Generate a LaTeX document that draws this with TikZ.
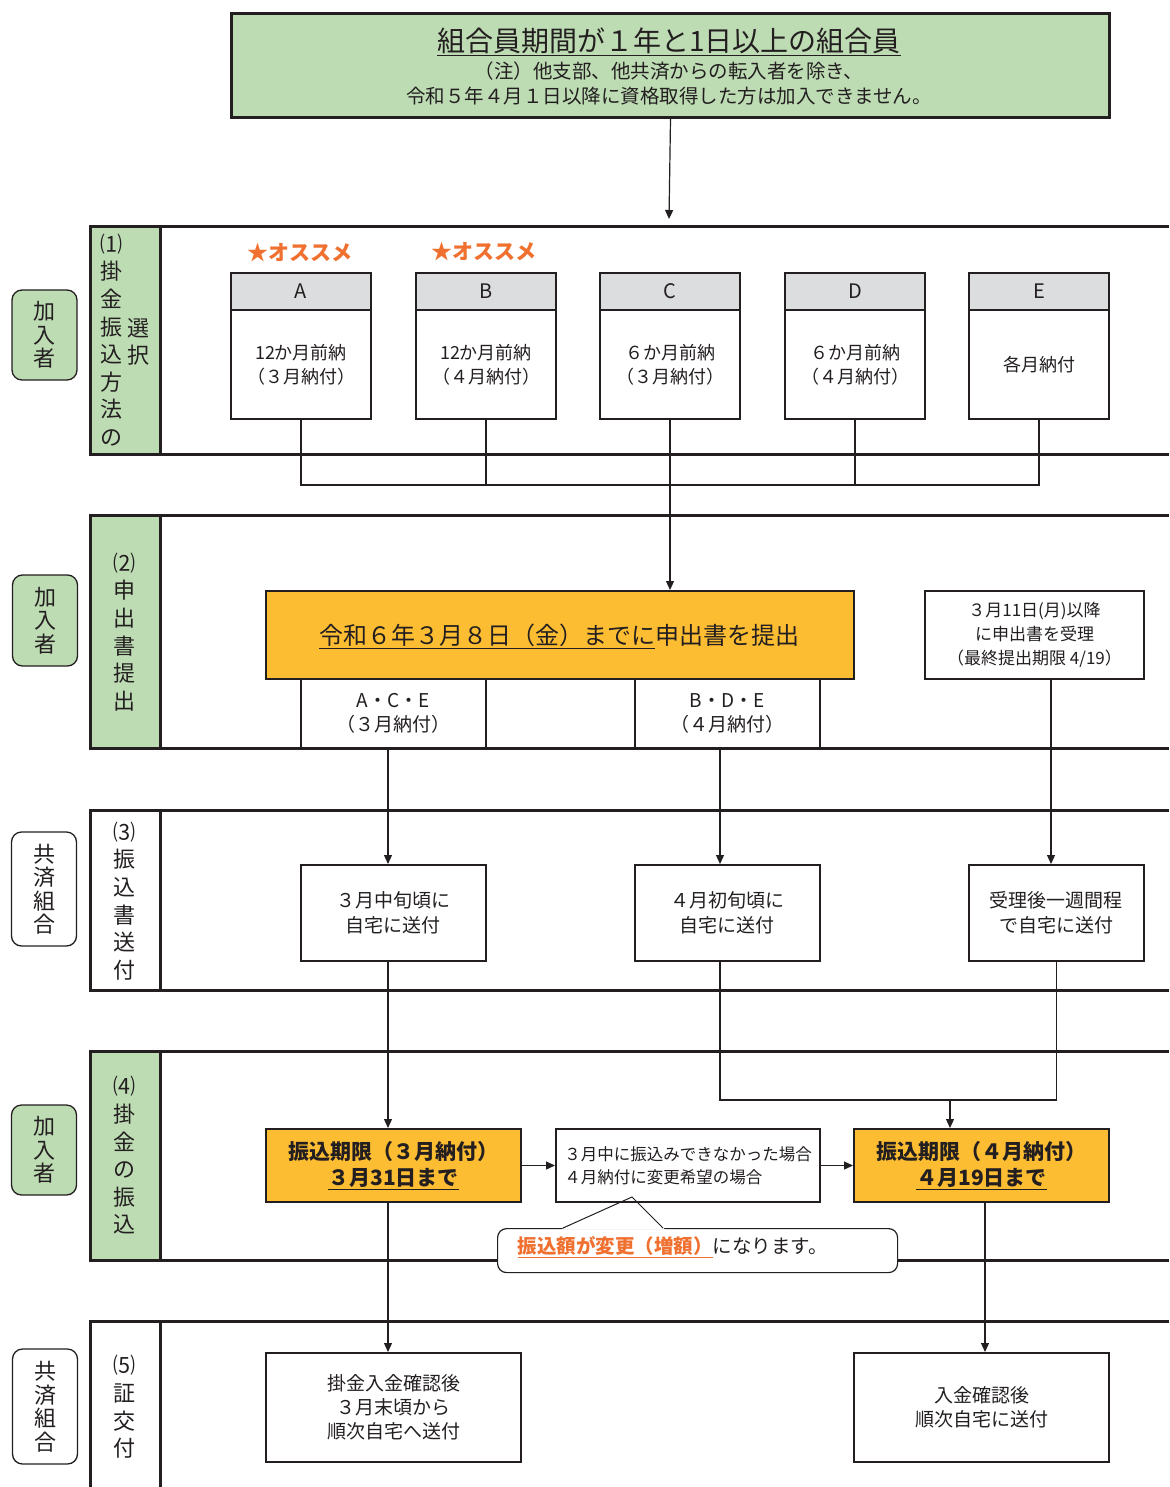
\documentclass[tikz,border=0pt]{standalone}
\usepackage{fontspec}
\setmainfont{Noto Sans CJK JP}
\usetikzlibrary{arrows.meta,calc}
\definecolor{grn}{HTML}{BEDCB4}
\definecolor{org}{HTML}{FDBD33}
\definecolor{hdg}{HTML}{DCDDDF}
\definecolor{stc}{HTML}{F07030}
\definecolor{ink}{HTML}{231F20}
\newcommand\fsz[1]{\fontsize{#1}{#1}\selectfont}
\begin{document}
\begin{tikzpicture}[x=1pt,y=-1pt,
  bandline/.style={line width=3pt, draw=ink},
  boxn/.style={draw=ink, line width=2pt, fill=white, inner sep=0pt, anchor=north west, align=center, text=ink},
  conn/.style={draw=ink, line width=1.2pt},
  arr/.style={conn, -{Triangle[length=9pt,width=8pt]}},
  pill/.style={draw=ink, line width=1.3pt, rounded corners=10pt, minimum width=65pt, inner sep=0pt, align=center, text=ink, font=\fontsize{22}{23.5}\selectfont},
  lbl/.style={align=center, inner sep=0pt, font=\fontsize{22}{27.6}\selectfont, text=ink},
  txt/.style={inner sep=0pt, align=center, text=ink},
]
\fill[white] (0,0) rectangle (1169,1487);
\useasboundingbox (0,0) rectangle (1169,1487);

% label column fills
\fill[grn] (90,227) rectangle (160,454);
\fill[grn] (90,515) rectangle (160,748);
\fill[grn] (90,1051) rectangle (160,1260);

% top box
\node[boxn, fill=grn, line width=3pt, minimum width=878pt, minimum height=104pt] (top) at (230,12) {};
\node[txt, font=\fsz{28}] (t1) at (669,42) {\underline{組合員期間が１年と1日以上の組合員}};
\node[txt, font=\fontsize{19.5}{25}\selectfont] (t2) at (669,83) {（注）他支部、他共済からの転入者を除き、\\令和５年４月１日以降に資格取得した方は加入できません。};
\coordinate (r1in) at (669,219);

% row 1 boxes
\node[txt, font=\bfseries\fsz{21}, text=stc] (sA) at (300,253) {★オススメ};
\node[txt, font=\bfseries\fsz{21}, text=stc] (sB) at (484,252) {★オススメ};
\node[boxn, fill=hdg, minimum width=140pt, minimum height=37pt, font=\fsz{20}] (hA) at (230,272) {A};
\node[boxn, minimum width=140pt, minimum height=109pt, font=\fontsize{18}{24}\selectfont] (bA) at (230,309) {12か月前納\\（３月納付）};
\node[boxn, fill=hdg, minimum width=140pt, minimum height=37pt, font=\fsz{20}] (hB) at (415,272) {B};
\node[boxn, minimum width=140pt, minimum height=109pt, font=\fontsize{18}{24}\selectfont] (bB) at (415,309) {12か月前納\\（４月納付）};
\node[boxn, fill=hdg, minimum width=140pt, minimum height=37pt, font=\fsz{20}] (hC) at (599,272) {C};
\node[boxn, minimum width=140pt, minimum height=109pt, font=\fontsize{18}{24}\selectfont] (bC) at (599,309) {６か月前納\\（３月納付）};
\node[boxn, fill=hdg, minimum width=140pt, minimum height=37pt, font=\fsz{20}] (hD) at (784,272) {D};
\node[boxn, minimum width=140pt, minimum height=109pt, font=\fontsize{18}{24}\selectfont] (bD) at (784,309) {６か月前納\\（４月納付）};
\node[boxn, fill=hdg, minimum width=140pt, minimum height=37pt, font=\fsz{20}] (hE) at (968,272) {E};
\node[boxn, minimum width=140pt, minimum height=109pt, font=\fontsize{18}{24}\selectfont] (bE) at (968,309) {各月納付};
\coordinate (bus) at (0,485);

% row 2
\node[boxn, fill=org, minimum width=588pt, minimum height=88pt] (ob) at (265,590) {};
\node[txt, font=\fsz{24}] (obt) at (559,636) {\underline{令和６年３月８日（金）までに}申出書を提出};
\node[boxn, line width=1.5pt, minimum width=185pt, minimum height=70pt, font=\fontsize{19}{24}\selectfont] (ace) at (300,678) {A・C・E\\（３月納付）};
\node[boxn, line width=1.5pt, minimum width=185pt, minimum height=70pt, font=\fontsize{19}{24}\selectfont] (bde) at (634,678) {B・D・E\\（４月納付）};
\node[boxn, minimum width=219pt, minimum height=88pt, font=\fontsize{17}{24}\selectfont] (rb) at (924,590) {３月11日(月)以降\\に申出書を受理\\（最終提出期限 4/19）};

% row 3
\node[boxn, line width=1.7pt, minimum width=185pt, minimum height=96pt, font=\fontsize{19}{25}\selectfont] (r3a) at (300,864) {３月中旬頃に\\自宅に送付};
\node[boxn, line width=1.7pt, minimum width=185pt, minimum height=96pt, font=\fontsize{19}{25}\selectfont] (r3b) at (634,864) {４月初旬頃に\\自宅に送付};
\node[boxn, line width=1.7pt, minimum width=175pt, minimum height=96pt, font=\fontsize{19}{25}\selectfont] (r3c) at (968,864) {受理後一週間程\\で自宅に送付};

% row 4
\node[boxn, fill=org, minimum width=255pt, minimum height=73pt, font=\bfseries\fontsize{21}{26}\selectfont] (o4a) at (265,1128) {振込期限（３月納付）\\\underline{３月31日まで}};
\node[boxn, minimum width=264pt, minimum height=73pt, align=left, font=\fontsize{16.5}{23}\selectfont] (mid) at (555,1128) {３月中に振込みできなかった場合\\４月納付に変更希望の場合};
\node[boxn, fill=org, minimum width=255pt, minimum height=73pt, font=\bfseries\fontsize{21}{26}\selectfont] (o4b) at (853,1128) {振込期限（４月納付）\\\underline{４月19日まで}};
\coordinate (m4) at (950,1100);

% row 5
\node[boxn, minimum width=255pt, minimum height=109pt, font=\fontsize{19}{24}\selectfont] (r5a) at (265,1352) {掛金入金確認後\\３月末頃から\\順次自宅へ送付};
\node[boxn, minimum width=255pt, minimum height=109pt, font=\fontsize{19}{24}\selectfont] (r5b) at (853,1352) {入金確認後\\順次自宅に送付};

% band lines
\draw[bandline] (1169,227) -- (90,227) -- (90,454) -- (1169,454);
\draw[bandline] (160,227) -- (160,454);
\draw[bandline] (1169,515) -- (90,515) -- (90,748) -- (1169,748);
\draw[bandline] (160,515) -- (160,748);
\draw[bandline] (1169,810) -- (90,810) -- (90,990) -- (1169,990);
\draw[bandline] (160,810) -- (160,990);
\draw[bandline] (1169,1051) -- (90,1051) -- (90,1260) -- (1169,1260);
\draw[bandline] (160,1051) -- (160,1260);
\draw[bandline] (1169,1321) -- (90,1321) -- (90,1490);
\draw[bandline] (160,1321) -- (160,1490);

% labels
\node[lbl] (l1) at (111,340) {⑴\\掛\\金\\振\\込\\方\\法\\の};
\node[lbl] (l1b) at (138,342) {選\\択};
\node[lbl] (l2) at (124,632) {⑵\\申\\出\\書\\提\\出};
\node[lbl] (l3) at (124,901) {⑶\\振\\込\\書\\送\\付};
\node[lbl] (l4) at (124,1155.5) {⑷\\掛\\金\\の\\振\\込};
\node[lbl] (l5) at (124,1407) {⑸\\証\\交\\付};

% pills
\node[pill, fill=grn, minimum height=90pt] (p1) at (44.5,335) {加\\入\\者};
\node[pill, fill=grn, minimum height=91pt] (p2) at (45,620.5) {加\\入\\者};
\node[pill, fill=white, minimum height=114pt] (p3) at (44,889) {共\\済\\組\\合};
\node[pill, fill=grn, minimum height=90pt] (p4) at (44,1150) {加\\入\\者};
\node[pill, fill=white, minimum height=115pt] (p5) at (45,1406.5) {共\\済\\組\\合};

% callout
\node[draw=ink, line width=1.2pt, rounded corners=9pt, fill=white, minimum width=400pt, minimum height=44pt, anchor=north west, inner sep=0pt] (co) at (497,1228) {};
\fill[white] (561,1229.5) -- (618.6,1203) -- (638,1203) -- (665,1229.5) -- cycle;
\draw[draw=ink, line width=1pt] (563,1228) -- (632,1197) -- (663,1228);
\node[txt, font=\fsz{19.5}] (cot) at (673,1247) {\textcolor{stc}{\bfseries\underline{振込額が変更（増額）}}になります。};

% connectors
\coordinate (xa) at (388,0);
\coordinate (xb) at (720,0);
\coordinate (xc) at (1051,0);
\coordinate (xd) at (985,0);
\draw[arr] (top.south) -- (r1in);
\draw[conn] (bA.south) -- (bA.south |- bus) -- (bE.south |- bus) -- (bE.south);
\draw[conn] (bB.south) -- (bB.south |- bus);
\draw[conn] (bD.south) -- (bD.south |- bus);
\draw[arr] (bC.south) -- (bC.south |- ob.north);
\draw[arr] (xa |- ace.south) -- (xa |- r3a.north);
\draw[arr] (xb |- bde.south) -- (xb |- r3b.north);
\draw[arr] (xc |- rb.south) -- (xc |- r3c.north);
\draw[arr] (xa |- r3a.south) -- (xa |- o4a.north);
\draw[conn] (xb |- r3b.south) |- (m4) -| (r3c.south);
\draw[arr] (m4) -- (m4 |- o4b.north);
\draw[arr] (o4a.east) -- (mid.west);
\draw[arr] (mid.east) -- (o4b.west);
\draw[arr] (xa |- o4a.south) -- (xa |- r5a.north);
\draw[arr] (xd |- o4b.south) -- (xd |- r5b.north);
\end{tikzpicture}
\end{document}
